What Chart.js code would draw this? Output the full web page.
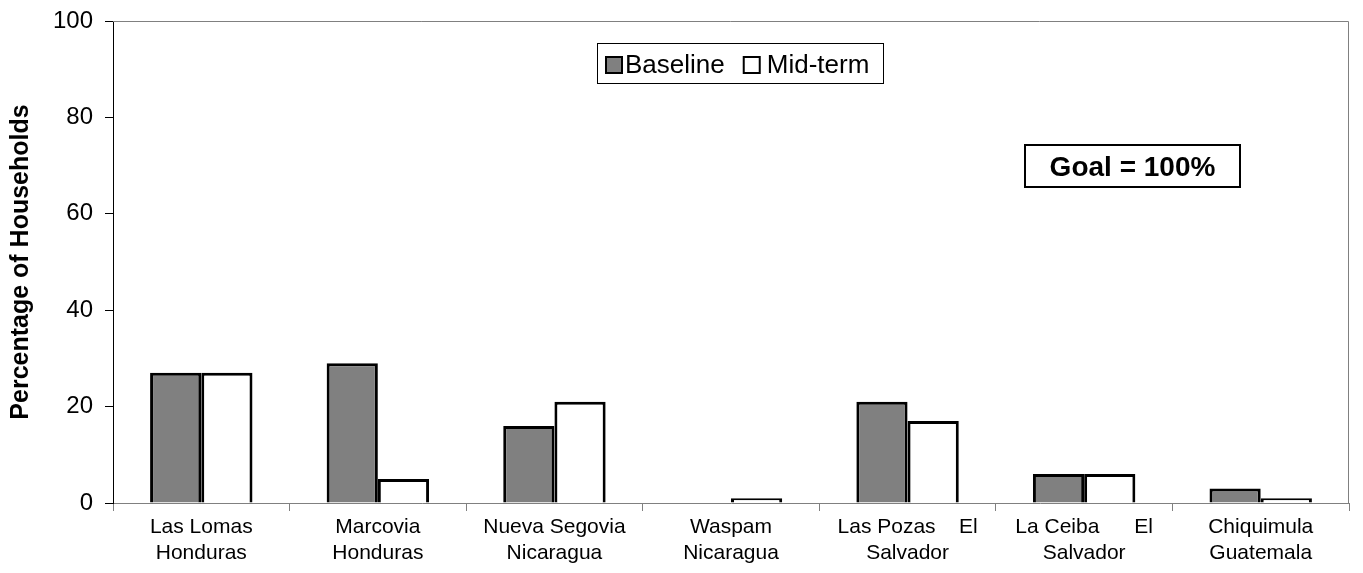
<!DOCTYPE html>
<html>
<head>
<meta charset="utf-8">
<script src="https://cdn.jsdelivr.net/npm/chart.js@4"></script>
<style>
    html, body { margin: 0; padding: 0; background: #fff; }
    #wrap { width: 1363px; height: 573px; }
</style>
</head>
<body>
<div id="wrap"><canvas id="chart" width="1363" height="573"></canvas></div>
<script>
// values
var sites = [
    ['Las Lomas', 'Honduras'],
    ['Marcovia', 'Honduras'],
    ['Nueva Segovia', 'Nicaragua'],
    ['Waspam', 'Nicaragua'],
    ['Las Pozas    El', 'Salvador'],
    ['La Ceiba      El', 'Salvador'],
    ['Chiquimula', 'Guatemala']
]
var baseline = [27, 29, 16, 0, 21, 6, 3]
var midterm = [27, 5, 21, 1, 17, 6, 1]
var seriesNames = ['Baseline', 'Mid-term']
var goalText = 'Goal = 100%'

var FONT = 'Arial, "Liberation Sans", sans-serif'

// plot frame, legend box and goal box are drawn by hand
var extras = {
    id: 'extras',
    afterDraw(chart) {
        var ctx = chart.ctx
        var a = chart.chartArea
        ctx.save()

        // grey frame on top and right
        ctx.strokeStyle = '#808080'
        ctx.lineWidth = 1
        ctx.beginPath()
        ctx.moveTo(a.left, a.top + 0.5)
        ctx.lineTo(a.right - 0.5, a.top + 0.5)
        ctx.lineTo(a.right - 0.5, a.bottom)
        ctx.stroke()

        // legend
        var lx = 597, ly = 43, lw = 286, lh = 40
        ctx.fillStyle = '#fff'
        ctx.fillRect(lx, ly, lw, lh)
        ctx.strokeStyle = '#000'
        ctx.lineWidth = 1
        ctx.strokeRect(lx + 0.5, ly + 0.5, lw, lh)
        ctx.font = '26px ' + FONT
        ctx.textBaseline = 'middle'
        var cy = ly + lh / 2 + 2
        var x = lx + 9
        var fills = ['#808080', '#ffffff']
        for (let i = 0; i < seriesNames.length; i++) {
            ctx.fillStyle = fills[i]
            ctx.fillRect(x, cy - 8, 16, 16)
            ctx.lineWidth = 2
            ctx.strokeStyle = '#000'
            ctx.strokeRect(x, cy - 8, 16, 16)
            ctx.fillStyle = '#000'
            ctx.fillText(seriesNames[i], x + 19 + i * 4, cy + 1)
            x += 19 + ctx.measureText(seriesNames[i]).width + 19
        }

        // goal box
        var gx = 1025, gy = 145, gw = 215, gh = 42
        ctx.fillStyle = '#fff'
        ctx.fillRect(gx, gy, gw, gh)
        ctx.strokeStyle = '#000'
        ctx.lineWidth = 2
        ctx.strokeRect(gx, gy, gw, gh)
        ctx.fillStyle = '#000'
        ctx.font = 'bold 28px ' + FONT
        ctx.textAlign = 'center'
        ctx.fillText(goalText, gx + gw / 2, gy + gh / 2 + 2)

        ctx.restore()
    }
}

new Chart(document.getElementById('chart'), {
    type: 'bar',
    data: {
        labels: sites,
        datasets: [
            {label: seriesNames[0], data: baseline, backgroundColor: '#808080', borderColor: '#000', borderWidth: 3},
            {label: seriesNames[1], data: midterm, backgroundColor: '#ffffff', borderColor: '#000', borderWidth: 3},
        ],
    },
    options: {
        responsive: false,
        animation: false,
        devicePixelRatio: 1,
        layout: {padding: {top: 21, right: 14, left: 0, bottom: 0}},
        datasets: {
            bar: {categoryPercentage: 0.58, barPercentage: 1.0},
        },
        plugins: {
            legend: {display: false},
            tooltip: {enabled: false},
        },
        scales: {
            x: {
                offset: true,
                grid: {
                    offset: true,
                    drawOnChartArea: false,
                    drawTicks: true,
                    tickLength: 8,
                    color: '#808080',
                },
                border: {color: '#808080', width: 1},
                ticks: {
                    color: '#000',
                    font: {family: FONT, size: 21},
                    padding: 4,
                    maxRotation: 0,
                    autoSkip: false,
                },
                afterFit(scale) { scale.height = 70 },
            },
            y: {
                min: 0,
                max: 100,
                grid: {
                    drawOnChartArea: false,
                    drawTicks: true,
                    tickLength: 8,
                    color: '#000',
                },
                border: {color: '#000', width: 1},
                ticks: {
                    stepSize: 20,
                    color: '#000',
                    font: {family: FONT, size: 24},
                    padding: 12,
                },
                title: {
                    display: true,
                    text: 'Percentage of Households',
                    color: '#000',
                    font: {family: FONT, size: 25, weight: 'bold'},
                    padding: {top: 6, bottom: 10},
                },
                afterFit(scale) {
                    scale.width = 113
                    scale.paddingTop = 0
                    scale.paddingBottom = 0
                },
            },
        },
    },
    plugins: [extras],
})
</script>
</body>
</html>
